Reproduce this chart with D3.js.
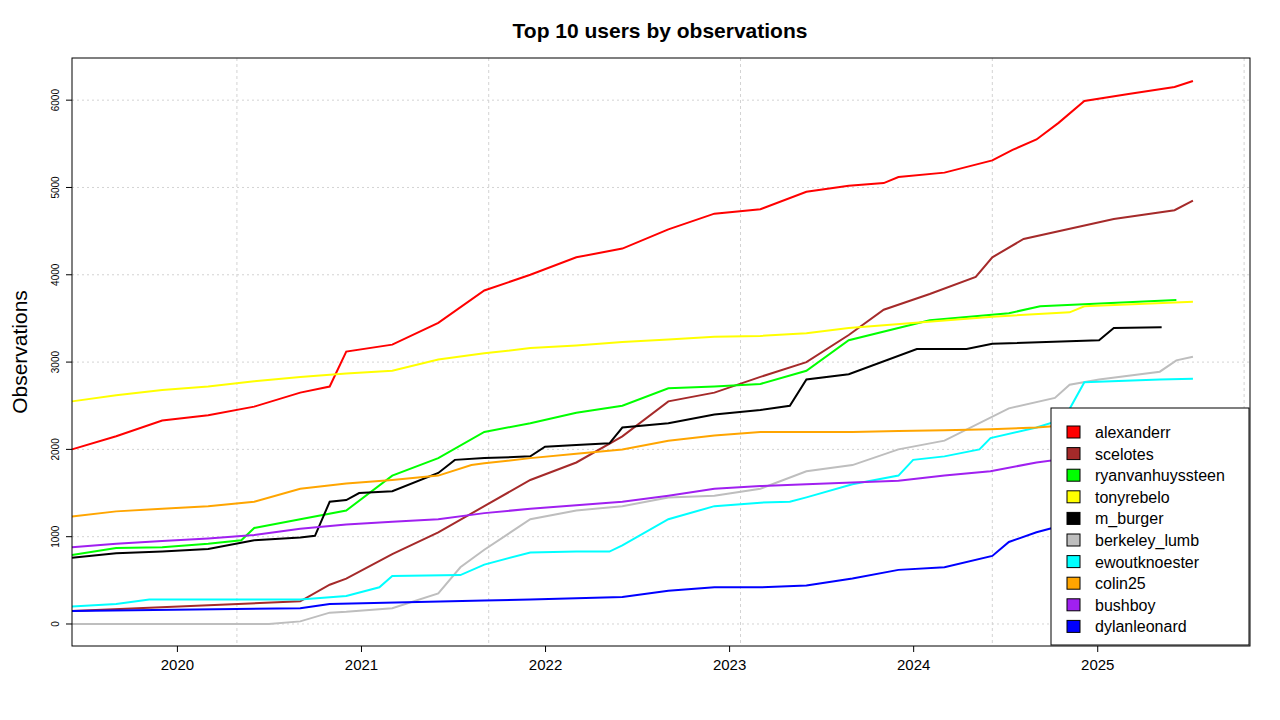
<!DOCTYPE html>
<html><head><meta charset="utf-8">
<script src="https://cdn.jsdelivr.net/npm/d3@7"></script>
<style>body{margin:0;background:#fff}svg{font-family:Arial,"Liberation Sans",sans-serif}</style>
</head><body><svg id="c" width="1280" height="720"></svg>
<script>
const names = ["alexanderr","scelotes","ryanvanhuyssteen","tonyrebelo","m_burger","berkeley_lumb","ewoutknoester","colin25","bushboy","dylanleonard"];
const colors = ["#ff0000","#a52a2a","#00ff00","#ffff00","#000000","#bebebe","#00ffff","#ffa500","#a020f0","#0000ff"];
const xTicks = [2020,2021,2022,2023,2024,2025];
const xGrid = [2020.326,2021.694,2023.062,2024.43,2025.798];
const yTicks = [0,1000,2000,3000,4000,5000,6000];
const alexanderr = [[2019.43,2000],[2019.67,2150],[2019.92,2330],[2020.17,2390],[2020.42,2490],[2020.67,2650],[2020.83,2720],[2020.92,3120],[2021.17,3200],[2021.42,3450],[2021.67,3820],[2021.92,4000],[2022.17,4200],[2022.42,4300],[2022.67,4520],[2022.92,4700],[2023.17,4750],[2023.42,4950],[2023.65,5020],[2023.84,5050],[2023.92,5120],[2024.17,5170],[2024.43,5310],[2024.54,5430],[2024.67,5550],[2024.79,5740],[2024.93,5990],[2025.17,6070],[2025.42,6150],[2025.52,6220]];
const scelotes = [[2019.43,150],[2020.67,260],[2020.83,450],[2020.92,520],[2021.17,800],[2021.42,1050],[2021.67,1350],[2021.92,1650],[2022.17,1850],[2022.42,2150],[2022.67,2550],[2022.92,2650],[2023.17,2830],[2023.42,3000],[2023.65,3310],[2023.84,3600],[2024.09,3780],[2024.34,3975],[2024.43,4200],[2024.6,4410],[2025.09,4640],[2025.42,4740],[2025.52,4850]];
const ryanvanhuyssteen = [[2019.43,790],[2019.67,870],[2019.92,880],[2020.17,920],[2020.35,960],[2020.42,1100],[2020.67,1200],[2020.92,1300],[2021.17,1700],[2021.42,1900],[2021.67,2200],[2021.92,2300],[2022.17,2420],[2022.42,2500],[2022.67,2700],[2022.92,2720],[2023.17,2750],[2023.42,2900],[2023.65,3250],[2024.09,3480],[2024.52,3560],[2024.69,3640],[2025.43,3710]];
const tonyrebelo = [[2019.43,2550],[2019.67,2620],[2019.92,2680],[2020.17,2720],[2020.42,2780],[2020.67,2830],[2020.92,2870],[2021.17,2900],[2021.42,3030],[2021.67,3100],[2021.92,3160],[2022.17,3190],[2022.42,3230],[2022.67,3260],[2022.92,3290],[2023.17,3300],[2023.42,3330],[2023.65,3390],[2024.43,3520],[2024.85,3570],[2024.93,3640],[2025.52,3690]];
const m_burger = [[2019.43,760],[2019.67,810],[2019.92,830],[2020.17,860],[2020.42,960],[2020.67,990],[2020.75,1010],[2020.83,1400],[2020.92,1420],[2020.99,1500],[2021.17,1520],[2021.42,1730],[2021.51,1880],[2021.67,1900],[2021.92,1920],[2022.0,2030],[2022.17,2050],[2022.35,2070],[2022.42,2250],[2022.67,2300],[2022.92,2400],[2023.17,2450],[2023.33,2500],[2023.42,2800],[2023.65,2860],[2024.02,3150],[2024.29,3150],[2024.43,3210],[2025.01,3250],[2025.09,3390],[2025.35,3400]];
const berkeley_lumb = [[2019.43,0],[2020.5,0],[2020.67,30],[2020.83,130],[2020.92,140],[2021.17,180],[2021.42,350],[2021.54,650],[2021.67,850],[2021.92,1200],[2022.17,1300],[2022.42,1350],[2022.67,1450],[2022.92,1470],[2023.17,1550],[2023.42,1750],[2023.67,1820],[2023.92,2000],[2024.17,2100],[2024.52,2470],[2024.77,2590],[2024.85,2740],[2025.01,2800],[2025.34,2890],[2025.43,3020],[2025.52,3060]];
const ewoutknoester = [[2019.43,200],[2019.67,230],[2019.85,280],[2020.67,280],[2020.92,320],[2021.1,420],[2021.17,550],[2021.54,560],[2021.67,680],[2021.92,820],[2022.17,830],[2022.35,830],[2022.42,900],[2022.67,1200],[2022.92,1350],[2023.17,1390],[2023.33,1400],[2023.42,1450],[2023.67,1600],[2023.92,1700],[2024.0,1880],[2024.17,1920],[2024.36,2000],[2024.42,2130],[2024.67,2250],[2024.82,2350],[2024.93,2770],[2025.34,2800],[2025.52,2810]];
const colin25 = [[2019.43,1230],[2019.67,1290],[2019.92,1320],[2020.17,1350],[2020.42,1400],[2020.67,1550],[2020.92,1610],[2021.17,1650],[2021.42,1700],[2021.6,1820],[2021.67,1840],[2021.92,1900],[2022.17,1950],[2022.42,2000],[2022.67,2100],[2022.92,2160],[2023.17,2200],[2023.42,2200],[2023.67,2200],[2023.92,2210],[2024.17,2220],[2024.42,2230],[2024.67,2250],[2024.92,2290],[2025.17,2310],[2025.52,2330]];
const bushboy = [[2019.43,880],[2019.67,920],[2019.92,950],[2020.17,980],[2020.42,1020],[2020.67,1090],[2020.92,1140],[2021.17,1170],[2021.42,1200],[2021.67,1270],[2021.92,1320],[2022.17,1360],[2022.42,1400],[2022.67,1470],[2022.92,1550],[2023.17,1580],[2023.42,1600],[2023.67,1620],[2023.92,1640],[2024.17,1700],[2024.42,1750],[2024.67,1850],[2024.92,1920],[2025.17,1980],[2025.52,2050]];
const dylanleonard = [[2019.43,150],[2020.67,180],[2020.83,230],[2021.67,270],[2021.92,280],[2022.42,310],[2022.67,380],[2022.92,420],[2023.17,420],[2023.42,440],[2023.67,520],[2023.92,620],[2024.17,650],[2024.43,780],[2024.52,940],[2024.67,1050],[2024.9,1180],[2025.17,1330],[2025.52,1500]];
const seriesData = [alexanderr,scelotes,ryanvanhuyssteen,tonyrebelo,m_burger,berkeley_lumb,ewoutknoester,colin25,bushboy,dylanleonard];

const svg = d3.select("#c");
const L=72,R=1250,T=58,B=646;
const x = d3.scaleLinear().domain([2019.43,2025.83]).range([L,R]);
const y = d3.scaleLinear().domain([-252,6483]).range([B,T]);
svg.append("g").selectAll("line").data(xGrid).join("line")
 .attr("x1",d=>x(d)).attr("x2",d=>x(d)).attr("y1",T).attr("y2",B)
 .attr("stroke","#d3d3d3").attr("stroke-dasharray","3,3");
svg.append("g").selectAll("line").data(yTicks).join("line")
 .attr("y1",d=>y(d)).attr("y2",d=>y(d)).attr("x1",L).attr("x2",R)
 .attr("stroke","#d3d3d3").attr("stroke-dasharray","2,3");
const line = d3.line().x(d=>x(d[0])).y(d=>y(d[1]));
seriesData.forEach((s,i)=>{
 svg.append("path").datum(s).attr("d",line).attr("fill","none").attr("stroke",colors[i]).attr("stroke-width",2);
});
svg.append("rect").attr("x",L).attr("y",T).attr("width",R-L).attr("height",B-T).attr("fill","none").attr("stroke","#000");
const xa = svg.append("g").attr("transform",`translate(0,${B})`).call(d3.axisBottom(x).tickValues(xTicks).tickFormat(d3.format("d")).tickSize(6).tickSizeOuter(0));
xa.select(".domain").remove();
xa.selectAll("text").attr("font-size",15).attr("dy","1.0em").attr("fill","#000");
const ya = svg.append("g").call(d3.axisLeft(y).tickValues(yTicks).tickSize(6).tickSizeOuter(0).tickFormat(d3.format("d")));
ya.attr("transform",`translate(${L},0)`);
ya.select(".domain").remove();
ya.selectAll(".tick").attr("transform",null);
ya.selectAll(".tick line").attr("y1",d=>y(d)).attr("y2",d=>y(d));
ya.selectAll("text").attr("font-size",10).attr("fill","#000").attr("text-anchor","middle").attr("dy",null).attr("x",0).attr("y",0)
 .attr("transform",d=>`translate(-13,${y(d)}) rotate(-90)`);
svg.append("text").attr("x",660).attr("y",38).attr("text-anchor","middle").attr("font-size",21).attr("font-weight","bold").text("Top 10 users by observations");
svg.append("text").attr("transform","translate(27,352) rotate(-90)").attr("text-anchor","middle").attr("font-size",21).text("Observations");
const lg = svg.append("g");
lg.append("rect").attr("x",1051).attr("y",408).attr("width",198).attr("height",237).attr("fill","#fff").attr("stroke","#000");
names.forEach((n,i)=>{
 const yy = 432+i*21.6;
 lg.append("rect").attr("x",1067).attr("y",yy-6).attr("width",13).attr("height",12).attr("fill",colors[i]).attr("stroke","#000");
 lg.append("text").attr("x",1095).attr("y",yy+6).attr("font-size",16).text(n);
});
</script></body></html>
